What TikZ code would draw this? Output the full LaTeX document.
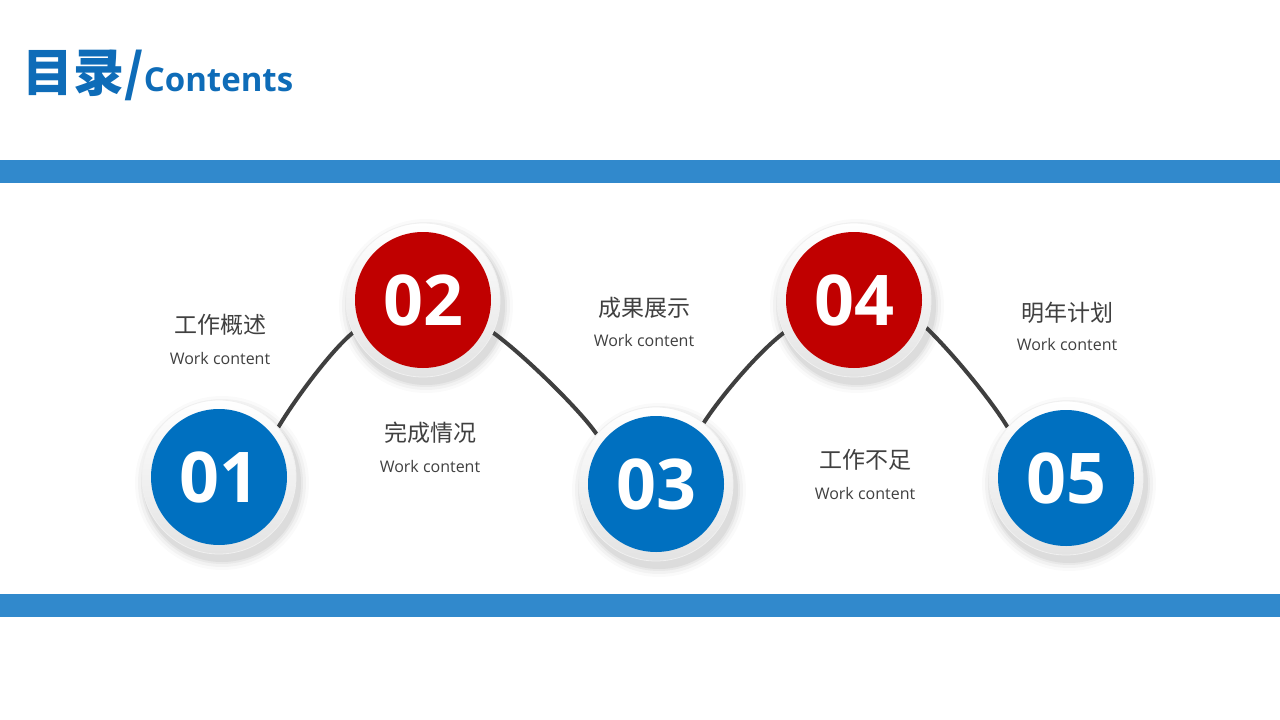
\documentclass[tikz,border=0pt]{standalone}
\usepackage{fontspec}
\setmainfont{Open Sans}
\newfontfamily\cjk{Noto Sans CJK SC}
\usetikzlibrary{backgrounds}
\definecolor{bandblue}{HTML}{3189CC}
\definecolor{titleblue}{HTML}{0E6CB8}
\definecolor{cblue}{HTML}{0070C0}
\definecolor{cred}{HTML}{C00000}
\definecolor{txtgray}{HTML}{404040}
\definecolor{linegray}{HTML}{3F3F3F}
\tikzset{
  ring/.style={circle, minimum size=154pt, inner sep=0pt, top color=white, bottom color=gray!22, draw=gray!12, line width=0.8pt},
  disc/.style={circle, minimum size=136pt, inner sep=0pt, fill=#1, text=white, font=\bfseries\fontsize{70}{70}\selectfont},
  heading/.style={text=txtgray, font=\cjk\fontsize{23}{23}\selectfont, inner sep=0pt},
  sub/.style={text=txtgray, font=\fontsize{16}{16}\selectfont, inner sep=0pt},
  wave/.style={draw=linegray, line width=4pt},
  band/.style={fill=bandblue}
}
\begin{document}
\begin{tikzpicture}[x=1pt,y=-1pt]
\useasboundingbox (0,0) rectangle (1280,720);
% bands
\fill[band] (0,160) rectangle (1280,183);
\fill[band] (0,594) rectangle (1280,617);
% title
\node[anchor=base west, inner sep=0pt, text=titleblue] (title) at (22,91)
  {{\cjk\bfseries\fontsize{51}{51}\selectfont 目录/}{\bfseries\fontsize{33}{33}\selectfont Contents}};
% circles
\foreach \i/\x/\y/\c in {1/219/477/cblue, 2/423/300/cred, 3/656/484/cblue, 4/854/300/cred, 5/1066/478/cblue}{
  \node[ring] (r\i) at (\x,\y) {};
  \node[disc=\c] (n\i) at (\x,\y) {0\i};
}
% labels
\node[heading] (h1) at (220,325) {工作概述};
\node[sub] (s1) at (220,358) {Work content};
\node[heading] (h2) at (430,433) {完成情况};
\node[sub] (s2) at (430,466) {Work content};
\node[heading] (h3) at (644,308) {成果展示};
\node[sub] (s3) at (644,340) {Work content};
\node[heading] (h4) at (865,460) {工作不足};
\node[sub] (s4) at (865,493) {Work content};
\node[heading] (h5) at (1067,313) {明年计划};
\node[sub] (s5) at (1067,344) {Work content};
\begin{scope}[on background layer]
  \fill[white] (0,0) rectangle (1280,720);
  \foreach \x/\y in {219/477, 423/300, 656/484, 854/300, 1066/478}{
    \foreach \rr/\op in {87/0.02, 84/0.03, 81/0.04, 79/0.05}{
      \fill[black, opacity=\op] (\x+3,\y+6) circle[radius=\rr];
    }
  }
  \draw[wave] (r1.40) .. controls +(16,-27) and +(-22,18) .. (r2.205);
  \draw[wave] (r2.-25) .. controls +(28,20) and +(-18,-26) .. (r3.140);
  \draw[wave] (r3.52) .. controls +(18,-28) and +(-24,18) .. (r4.205);
  \draw[wave] (r4.-21) .. controls +(25,24) and +(-17,-28) .. (r5.139);
\end{scope}
\end{tikzpicture}
\end{document}
